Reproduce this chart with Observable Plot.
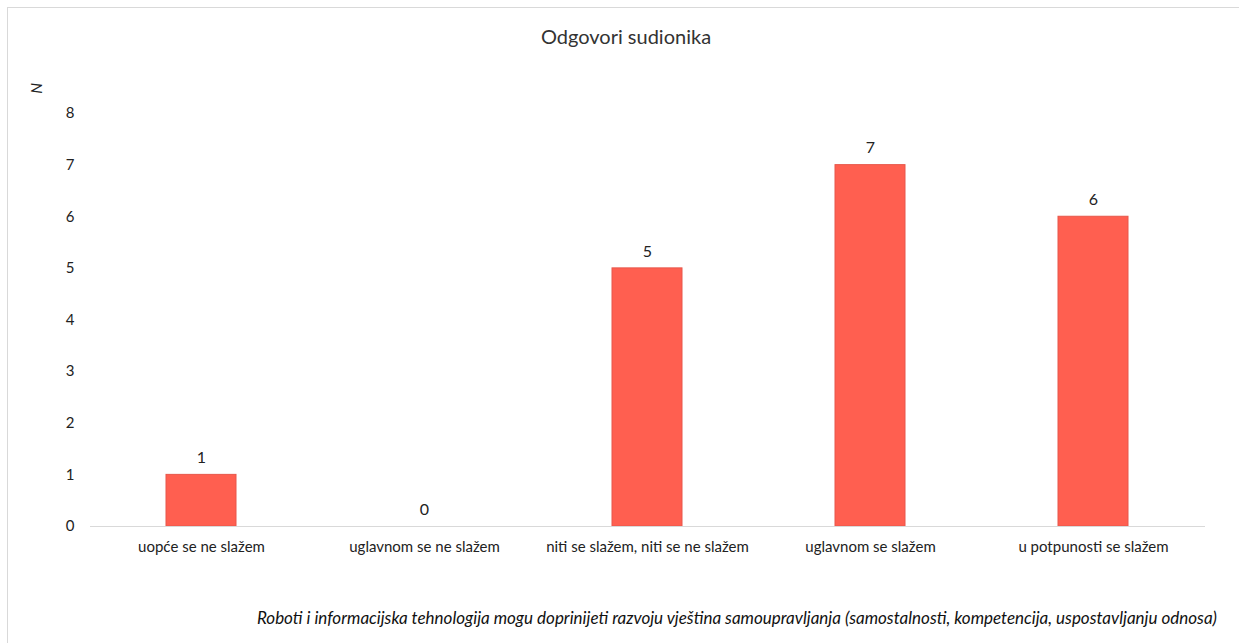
<!DOCTYPE html>
<html>
<head>
<meta charset="utf-8">
<script src="https://cdn.jsdelivr.net/npm/d3@7"></script>
<script src="https://cdn.jsdelivr.net/npm/@observablehq/plot@0.6"></script>
<style>
  html, body { margin: 0; padding: 0; background: #fff; }
  #wrap { position: relative; width: 1239px; height: 643px; overflow: hidden; font-family: Lato, "Open Sans", sans-serif; }
  #frame { position: absolute; left: 7px; top: 7px; width: 1240px; height: 640px; border-left: 1.5px solid #d9d9d9; border-top: 1.5px solid #d9d9d9; }
  #title { position: absolute; left: 0; width: 1252px; top: 24px; text-align: center; font-size: 20px; color: #333; }
  #ylab { position: absolute; left: 32px; top: 79px; font-size: 15px; font-style: italic; color: #222; transform: rotate(90deg); transform-origin: center; }
  #caption { position: absolute; right: 22px; top: 607px; font-size: 17px; font-style: italic; color: #111; white-space: nowrap; }
  #chart { position: absolute; left: 0; top: 0; }
</style>
</head>
<body>
<div id="wrap">
  <div id="frame"></div>
  <div id="chart"></div>
  <div id="title">Odgovori sudionika</div>
  <div id="ylab">N</div>
  <div id="caption">Roboti i informacijska tehnologija mogu doprinijeti razvoju vještina samoupravljanja (samostalnosti, kompetencija, uspostavljanju odnosa)</div>
</div>
<script>
const categories = ["uopće se ne slažem", "uglavnom se ne slažem", "niti se slažem, niti se ne slažem", "uglavnom se slažem", "u potpunosti se slažem"];
const counts = [1, 0, 5, 7, 6];
const yTicks = [0, 1, 2, 3, 4, 5, 6, 7, 8];

const data = categories.map((c, i) => ({category: c, n: counts[i]}));

const chart = Plot.plot({
  width: 1239,
  height: 643,
  marginLeft: 90,
  marginRight: 34,
  marginTop: 113,
  marginBottom: 117,
  style: {fontFamily: "Lato, 'Open Sans', sans-serif", fontSize: "15px", color: "#222", background: "transparent"},
  x: {domain: categories, paddingInner: 0.686, paddingOuter: 0.343, label: null, tickSize: 0, tickPadding: 15},
  y: {domain: [0, 8], ticks: yTicks, label: null, tickSize: 0, tickPadding: 16, tickFormat: d3.format("d")},
  marks: [
    Plot.barY(data, {x: "category", y: "n", fill: "#FF5F50", stroke: "#E8574A", strokeWidth: 1}),
    Plot.ruleY([0], {stroke: "#d9d9d9", strokeWidth: 1.2}),
    Plot.text(data, {x: "category", y: "n", text: d => String(d.n), dy: -17, fontSize: 16, fill: "#222"})
  ]
});
document.getElementById("chart").appendChild(chart);
</script>
</body>
</html>
